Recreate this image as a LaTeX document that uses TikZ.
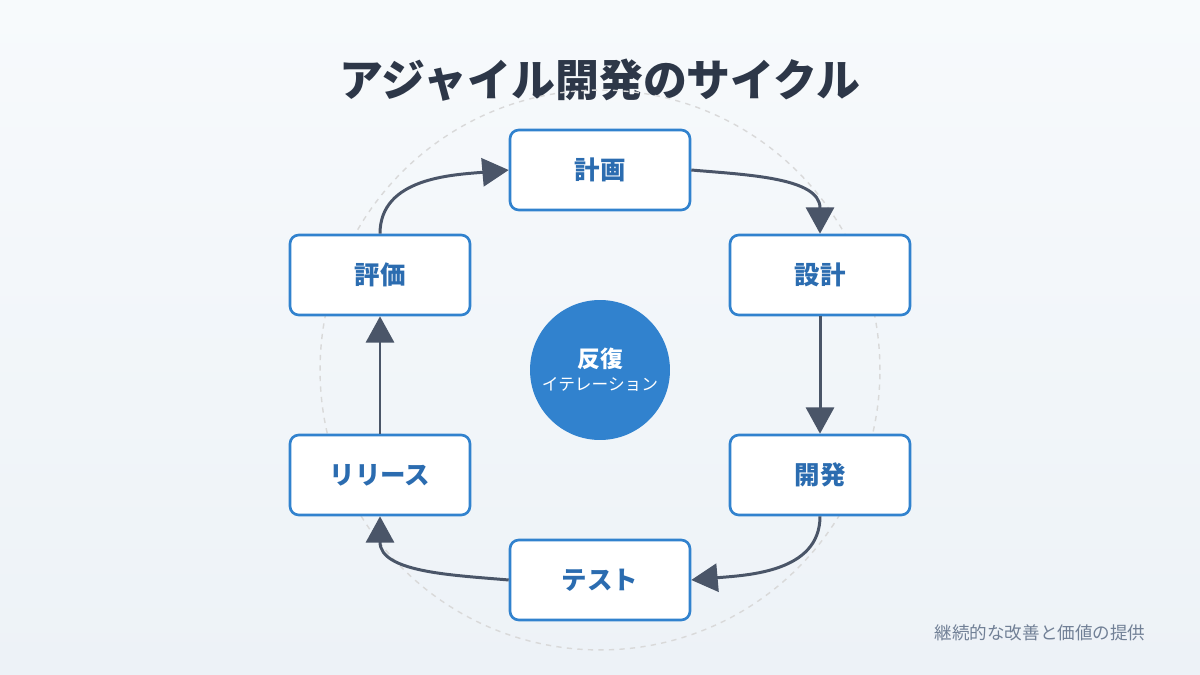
\documentclass[tikz,border=0pt]{standalone}
\usepackage{fontspec}
\setmainfont{Noto Sans CJK JP}
\usetikzlibrary{arrows.meta}
\definecolor{boxblue}{HTML}{3182CE}
\definecolor{textblue}{HTML}{2B6CB0}
\definecolor{arrowgray}{HTML}{4A5568}
\definecolor{titlegray}{HTML}{2D3748}
\definecolor{footgray}{HTML}{718096}
\definecolor{bgtop}{HTML}{F7FAFC}
\definecolor{bgbot}{HTML}{EDF2F7}
\tikzset{
  stage/.style = {draw = boxblue, line width = 1.5pt, fill = white, rounded corners = 5pt,
    minimum width = 3.6cm, minimum height = 1.6cm, font = \fontsize{14.5}{16}\selectfont\bfseries, text = textblue},
  flow/.style = {draw = arrowgray, line width = 1.7pt, -{Triangle[length = 15pt, width = 16pt]}}
}
\begin{document}
\begin{tikzpicture}[x = 0.02cm, y = -0.02cm]

% Background
\shade [top color = bgtop, bottom color = bgbot] ( 0, 0 ) rectangle ( 1200, 675 );
\useasboundingbox ( 0, 0 ) rectangle ( 1200, 675 );

% Title
\node (title) at ( 600, 80 ) [font = \fontsize{25}{28}\selectfont\bfseries, text = titlegray] {アジャイル開発のサイクル};

% Guide circle
\draw [dashed, gray!30, line width = 0.8pt] ( 600, 370 ) circle [radius = 5.6cm];

% Stages
\node (plan)    at ( 600, 170 ) [stage] {計画};
\node (design)  at ( 820, 275 ) [stage] {設計};
\node (dev)     at ( 820, 475 ) [stage] {開発};
\node (test)    at ( 600, 580 ) [stage] {テスト};
\node (release) at ( 380, 475 ) [stage] {リリース};
\node (review)  at ( 380, 275 ) [stage] {評価};

% Center
\node (iter) at ( 600, 370 ) [circle, fill = boxblue, minimum size = 2.8cm, text = white, align = center]
  {{\fontsize{13}{15}\selectfont\bfseries 反復}\\[1pt]{\fontsize{9.5}{11}\selectfont イテレーション}};

% Transitions
\draw [flow] (plan.east) to [out = -5, in = 90] (design.north);
\draw [flow] (design) -- (dev);
\draw [flow] (dev.south) to [out = -90, in = 5] (test.east);
\draw [flow] (test.west) to [out = 175, in = -90] (release.south);
\draw [flow] (release) -- (review);
\draw [flow] (review.north) to [out = 90, in = 185] (plan.west);

% Footer
\node (foot) at ( 1040, 633 ) [font = \fontsize{10}{12}\selectfont, text = footgray] {継続的な改善と価値の提供};

\end{tikzpicture}
\end{document}
